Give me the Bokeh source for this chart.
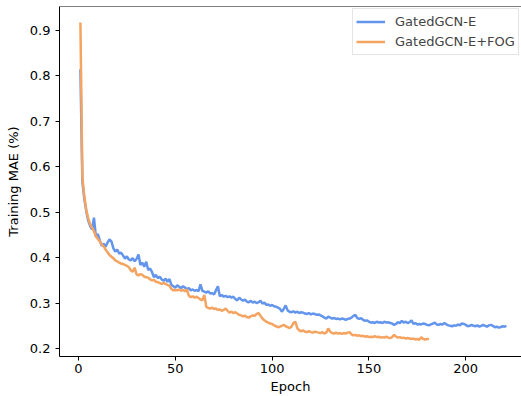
from bokeh.plotting import figure
from bokeh.models import Range1d, Span, Legend, LegendItem, FixedTicker
from bokeh.embed import file_html
from bokeh.resources import INLINE

# ---- data ----
blue_mae = [
    0.815, 0.568, 0.530, 0.503, 0.482, 0.470, 0.462, 0.488, 0.446, 0.452,
    0.438, 0.426, 0.431, 0.424, 0.433, 0.440, 0.436, 0.421, 0.413, 0.418,
    0.409, 0.411, 0.405, 0.398, 0.403, 0.396, 0.394, 0.399, 0.392, 0.397,
    0.407, 0.384, 0.389, 0.380, 0.391, 0.373, 0.376, 0.368, 0.357, 0.362,
    0.355, 0.358, 0.352, 0.349, 0.354, 0.347, 0.353, 0.340, 0.337, 0.334,
    0.339, 0.336, 0.333, 0.337, 0.334, 0.331, 0.333, 0.328, 0.330, 0.327,
    0.329, 0.326, 0.341, 0.327, 0.325, 0.323, 0.326, 0.321, 0.322, 0.319,
    0.328, 0.337, 0.315, 0.318, 0.314, 0.316, 0.313, 0.315, 0.312, 0.314,
    0.309, 0.306, 0.312, 0.308, 0.305, 0.308, 0.303, 0.302, 0.305, 0.301,
    0.303, 0.300, 0.302, 0.305, 0.299, 0.301, 0.296, 0.297, 0.294, 0.296,
    0.293, 0.292, 0.290, 0.288, 0.281, 0.287, 0.295, 0.284, 0.281, 0.280,
    0.282, 0.279, 0.281, 0.278, 0.280, 0.279, 0.277, 0.276, 0.278, 0.275,
    0.277, 0.276, 0.274, 0.275, 0.273, 0.271, 0.268, 0.266, 0.270, 0.268,
    0.266, 0.267, 0.265, 0.266, 0.264, 0.266, 0.265, 0.263, 0.265, 0.266,
    0.268, 0.272, 0.274, 0.267, 0.265, 0.267, 0.263, 0.261, 0.262, 0.259,
    0.257, 0.258, 0.256, 0.259, 0.257, 0.258, 0.256, 0.259, 0.257, 0.258,
    0.256, 0.255, 0.252, 0.254, 0.258, 0.256, 0.261, 0.257, 0.259, 0.256,
    0.258, 0.262, 0.254, 0.256, 0.253, 0.254, 0.253, 0.255, 0.254, 0.252,
    0.251, 0.253, 0.255, 0.257, 0.253, 0.252, 0.254, 0.253, 0.256, 0.253,
    0.251, 0.250, 0.249, 0.251, 0.250, 0.253, 0.251, 0.255, 0.254, 0.252,
    0.249, 0.250, 0.252, 0.250, 0.249, 0.251, 0.248, 0.250, 0.252, 0.250,
    0.248, 0.251, 0.252, 0.250, 0.247, 0.248, 0.246, 0.247, 0.249, 0.248,
    0.250,
]
orange_mae = [
    0.918, 0.578, 0.536, 0.506, 0.487, 0.474, 0.466, 0.458, 0.447, 0.441,
    0.436, 0.429, 0.425, 0.418, 0.412, 0.406, 0.402, 0.399, 0.394, 0.392,
    0.389, 0.387, 0.386, 0.384, 0.382, 0.379, 0.372, 0.369, 0.378, 0.363,
    0.361, 0.364, 0.362, 0.358, 0.357, 0.356, 0.352, 0.350, 0.351, 0.347,
    0.346, 0.344, 0.342, 0.345, 0.342, 0.340, 0.338, 0.331, 0.328, 0.329,
    0.328, 0.330, 0.327, 0.329, 0.326, 0.330, 0.316, 0.313, 0.315, 0.312,
    0.314, 0.311, 0.308, 0.306, 0.318, 0.292, 0.289, 0.288, 0.290, 0.287,
    0.288, 0.285, 0.286, 0.283, 0.285, 0.288, 0.283, 0.279, 0.281, 0.278,
    0.280, 0.277, 0.274, 0.273, 0.271, 0.272, 0.269, 0.268, 0.271, 0.273,
    0.272, 0.276, 0.278, 0.272, 0.266, 0.262, 0.259, 0.257, 0.255, 0.254,
    0.251, 0.249, 0.247, 0.248, 0.250, 0.252, 0.249, 0.247, 0.245, 0.248,
    0.256, 0.259, 0.245, 0.240, 0.238, 0.240, 0.237, 0.236, 0.238, 0.236,
    0.235, 0.237, 0.236, 0.235, 0.234, 0.236, 0.233, 0.235, 0.244, 0.237,
    0.234, 0.233, 0.235, 0.233, 0.234, 0.232, 0.234, 0.233, 0.235, 0.236,
    0.231, 0.229, 0.230, 0.228, 0.229, 0.227, 0.228, 0.226, 0.227, 0.225,
    0.226, 0.225, 0.227, 0.225, 0.226, 0.224, 0.225, 0.224, 0.226, 0.224,
    0.223, 0.225, 0.230, 0.226, 0.224, 0.225, 0.223, 0.224, 0.222, 0.223,
    0.222, 0.221, 0.222, 0.220, 0.221, 0.219, 0.225, 0.221, 0.220, 0.221,
    0.221,
]
blue_epochs = list(range(1, len(blue_mae) + 1))
orange_epochs = list(range(1, len(orange_mae) + 1))
series_names = ["GatedGCN-E", "GatedGCN-E+FOG"]
x_ticks = [0, 50, 100, 150, 200]
y_ticks = [0.2, 0.3, 0.4, 0.5, 0.6, 0.7, 0.8, 0.9]

FONT = "DejaVu Sans"
BLUE = "#6495ED"
ORANGE = "#F4A460"

p = figure(
    width=521, height=396,
    frame_width=462, frame_height=350,
    min_border_left=59, min_border_right=0, min_border_top=6,
    output_backend="svg", toolbar_location=None,
    x_range=Range1d(-9.8, 228.8), y_range=Range1d(0.1824, 0.953),
)
p.background_fill_color = "white"
p.border_fill_color = "white"
p.outline_line_color = None
p.xgrid.visible = False
p.ygrid.visible = False

r_blue = p.line(blue_epochs, blue_mae, line_color=BLUE, line_width=2.5)
r_orange = p.line(orange_epochs, orange_mae, line_color=ORANGE, line_width=2.5)

p.add_layout(Span(location=0.953, dimension="width", line_color="black", line_width=1))

for ax in (p.xaxis[0], p.yaxis[0]):
    ax.axis_line_color = "black"
    ax.axis_line_width = 1
    ax.major_tick_line_color = "black"
    ax.major_tick_out = 4
    ax.major_tick_in = 0
    ax.minor_tick_line_color = None
    ax.major_label_text_font = FONT
    ax.major_label_text_font_size = "13px"
    ax.major_label_text_color = "black"
    ax.axis_label_text_font = FONT
    ax.axis_label_text_font_size = "13px"
    ax.axis_label_text_font_style = "normal"
    ax.axis_label_text_color = "black"

p.xaxis[0].ticker = FixedTicker(ticks=x_ticks)
p.yaxis[0].ticker = FixedTicker(ticks=y_ticks)
p.xaxis[0].axis_label = "Epoch"
p.yaxis[0].axis_label = "Training MAE (%)"
p.xaxis[0].major_label_standoff = 3
p.xaxis[0].axis_label_standoff = 3
p.yaxis[0].major_label_standoff = 5
p.yaxis[0].axis_label_standoff = 6

legend = Legend(
    items=[LegendItem(label=series_names[0], renderers=[r_blue]),
           LegendItem(label=series_names[1], renderers=[r_orange])],
    location=(293, 301),
    margin=0, padding=3, spacing=1,
    glyph_width=29, glyph_height=19, label_height=19,
    label_standoff=10,
    label_text_font=FONT, label_text_font_size="13px",
    border_line_color="#cccccc", border_line_width=1,
    background_fill_color="white", background_fill_alpha=0.8,
)
p.add_layout(legend)

open("out.html", "w").write(file_html(p, INLINE))
